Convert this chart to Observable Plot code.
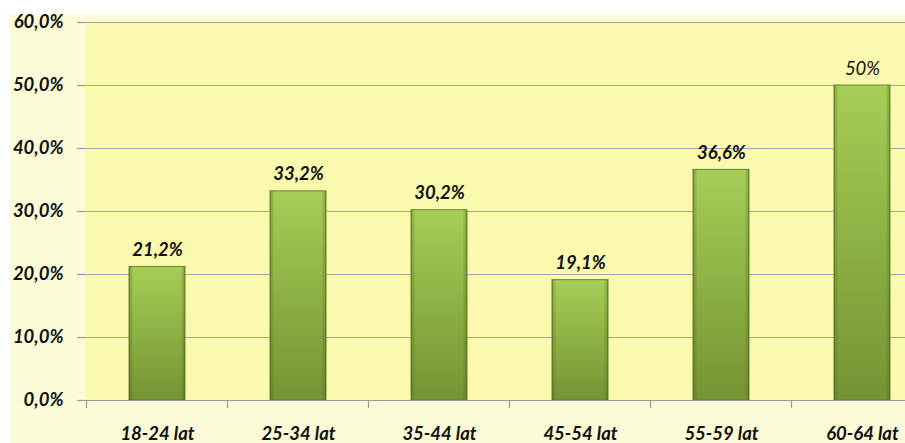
<!DOCTYPE html>
<html><head><meta charset="utf-8">
<script src="https://cdn.jsdelivr.net/npm/d3@7"></script>
<script src="https://cdn.jsdelivr.net/npm/@observablehq/plot@0.6"></script>
<style>
body{margin:0;background:#fff;}
#wrap{position:relative;width:905px;height:443px;overflow:hidden;}
#bg{position:absolute;left:10px;top:14px;right:0;bottom:0;background:#fcfbd7;}
#chart{position:absolute;left:0;top:0;}
</style></head>
<body><div id="wrap"><div id="bg"></div><div id="chart"></div></div>
<script>
const categories = ["18-24 lat","25-34 lat","35-44 lat","45-54 lat","55-59 lat","60-64 lat"];
const values = [21.2, 33.2, 30.2, 19.1, 36.6, 50];
const valueLabels = ["21,2%","33,2%","30,2%","19,1%","36,6%","50%"];
const yTicks = [0,10,20,30,40,50,60];

const data = categories.map((c,i)=>({cat:c, v:values[i], lab:valueLabels[i], bold: i<5}));
const font = "Lato, 'Open Sans', sans-serif";
const fs = 18.5;

const bandTicks = Plot.marks(function(index, scales, values, dims){
  const x = scales.x, bw = x.bandwidth(), step = x.step();
  const g = d3.create("svg:g");
  const y0 = scales.y(0);
  const xs = [x(categories[0]) - (step-bw)/2, ...categories.map(c => x(c) + bw + (step-bw)/2)];
  g.selectAll("line").data(xs).join("line")
    .attr("x1", d=>d).attr("x2", d=>d).attr("y1", y0).attr("y2", y0+8)
    .attr("stroke", "#999").attr("stroke-width", 1.2);
  return g.node();
});

const plot = Plot.plot({
  width: 905, height: 443,
  marginLeft: 85, marginRight: 0, marginTop: 22, marginBottom: 43,
  style: {background: "transparent", fontFamily: font, overflow: "visible"},
  x: {domain: categories, range: [85, 934.6], paddingInner: 0.6, paddingOuter: 0.3, align: 0.5},
  y: {domain: [0, 60], range: [400, 22]},
  marks: [
    Plot.frame({fill: "#fbf9ad", stroke: null}),
    Plot.gridY(yTicks, {stroke: "#a6a6a0", strokeOpacity: 1, strokeWidth: 1.2}),
    Plot.barY(data, {x: "cat", y: "v", fill: "url(#gv)", stroke: "#6a852c", strokeWidth: 1}),
    Plot.barY(data, {x: "cat", y: "v", fill: "url(#gh)"}),
    Plot.ruleY([0], {stroke: "#999", strokeWidth: 1.2}),
    bandTicks,
    Plot.axisY(yTicks, {tickSize: 8, tickPadding: 14, stroke: "#999", strokeWidth: 1.2,
      tickFormat: d => d.toFixed(1).replace(".", ",") + "%",
      fontSize: fs, fontWeight: "bold", fontStyle: "italic", fill: "#111", label: null}),
    Plot.axisX({tickSize: 0, tickPadding: 26, fontSize: fs, fontWeight: "bold", fontStyle: "italic", fill: "#111", label: null}),
    Plot.text(data.filter(d=>d.bold), {x: "cat", y: "v", text: "lab", lineAnchor: "bottom", dy: -11,
      fontSize: fs, fontWeight: "bold", fontStyle: "italic", fill: "#111"}),
    Plot.text(data.filter(d=>!d.bold), {x: "cat", y: "v", text: "lab", lineAnchor: "bottom", dy: -11,
      fontSize: fs, fontWeight: "normal", fontStyle: "italic", fill: "#111"})
  ]
});

const svg = d3.select(plot);
const defs = svg.insert("defs", ":first-child");
const gv = defs.append("linearGradient").attr("id","gv").attr("x1",0).attr("y1",0).attr("x2",0).attr("y2",1);
gv.append("stop").attr("offset","0%").attr("stop-color","#acd45a");
gv.append("stop").attr("offset","45%").attr("stop-color","#94b948");
gv.append("stop").attr("offset","100%").attr("stop-color","#779737");
const gh = defs.append("linearGradient").attr("id","gh").attr("x1",0).attr("y1",0).attr("x2",1).attr("y2",0);
gh.append("stop").attr("offset","0%").attr("stop-color","#3d5010").attr("stop-opacity",0.4);
gh.append("stop").attr("offset","8%").attr("stop-color","#3d5010").attr("stop-opacity",0.05);
gh.append("stop").attr("offset","92%").attr("stop-color","#3d5010").attr("stop-opacity",0.05);
gh.append("stop").attr("offset","100%").attr("stop-color","#3d5010").attr("stop-opacity",0.4);

document.getElementById("chart").appendChild(plot);
</script></body></html>
